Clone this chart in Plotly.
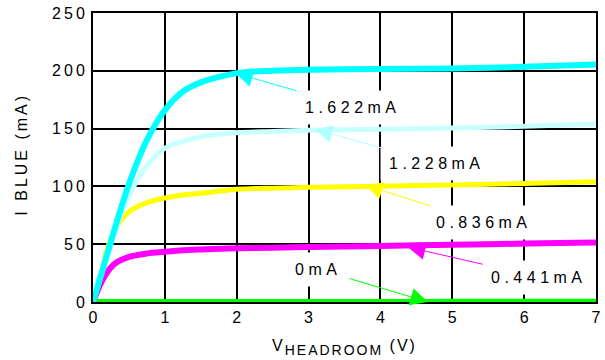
import plotly.graph_objects as go

# ---- data ----
x_pts = [0, 0.1, 0.2, 0.3, 0.5, 0.75, 1.0, 1.25, 1.5, 2.0, 2.5, 3.0, 4.0, 5.0, 6.0, 7.0]
i_1622 = [0, 21, 42, 63, 102, 140, 166, 182, 190, 198, 200, 201, 201.5, 202, 203.5, 205.5]
i_1228 = [0, 20, 40, 60, 92, 118, 133, 139, 143, 146.5, 147.5, 148.5, 149.5, 150.5, 152, 154]
i_0836 = [0, 20, 46, 62, 78, 86, 90, 92.5, 94, 97.5, 98.5, 99.2, 100.2, 101.2, 102.5, 104]
i_0441 = [0, 15, 26, 33, 39, 42, 43.5, 44.8, 45.5, 46.5, 47, 47.5, 48.5, 49.5, 50.5, 51.5]
i_0 = [0, 0, 0, 0, 0, 0, 0, 0, 0, 0, 0, 0, 0, 0.2, 0.3, 0.3]

series = [
    ("0mA", i_0, "#00FF00", 6),
    ("0.441mA", i_0441, "#FF00FF", 6),
    ("0.836mA", i_0836, "#FFFF00", 5),
    ("1.228mA", i_1228, "#C8FFFF", 5),
    ("1.622mA", i_1622, "#00FFFF", 6),
]

# annotation: label, head (x, y), text centre (x, y), colour
labels = [
    ("1.622mA", 1.98, 198, 3.62, 168.5, "#00FFFF"),
    ("1.228mA", 3.09, 149.5, 4.79, 119.5, "#B0FFFF"),
    ("0.836mA", 3.79, 101, 5.44, 68.5, "#FFFF00"),
    ("0.441mA", 4.38, 47.5, 6.21, 21.5, "#FF00FF"),
    ("0mA", 4.66, 0, 3.13, 28.5, "#00FF00"),
]

x_ticks = [0, 1, 2, 3, 4, 5, 6, 7]
y_ticks = [0, 50, 100, 150, 200, 250]
y_title = "I BLUE (mA)"

FONT = "Liberation Sans, Arial, Helvetica, sans-serif"


def spaced(s, px):
    return f'<span style="letter-spacing:{px}px">{s}</span>'


fig = go.Figure()
for name, ys, col, w in series:
    fig.add_trace(go.Scatter(x=x_pts, y=ys, mode="lines", name=name,
                             line=dict(color=col, width=w, shape="spline", smoothing=0.8),
                             hoverinfo="skip"))

for txt, hx, hy, tx, ty, col in labels:
    fig.add_annotation(x=hx, y=hy, ax=tx, ay=ty, axref="x", ayref="y", xref="x", yref="y",
                       text=spaced(txt, 4.5), showarrow=True, arrowhead=2, arrowsize=3.5,
                       arrowwidth=1, arrowcolor=col, bgcolor="white", borderpad=8,
                       font=dict(family=FONT, size=16, color="black"))

# y-axis title placed as rotated text
fig.add_annotation(xref="paper", yref="paper", x=-0.141, y=0.51, showarrow=False,
                   text=spaced(y_title, 3), textangle=-90, xanchor="center", yanchor="middle",
                   font=dict(family=FONT, size=16, color="black"))

fig.update_layout(
    width=605, height=360,
    margin=dict(l=93, r=9, t=13, b=58),
    paper_bgcolor="white", plot_bgcolor="white",
    showlegend=False,
    font=dict(family=FONT, size=16, color="black"),
)
fig.update_xaxes(range=[0, 7], tickvals=x_ticks, ticktext=[str(v) for v in x_ticks],
                 automargin=False,
                 showgrid=True, gridcolor="black", gridwidth=2, zeroline=False,
                 showline=True, linecolor="black", linewidth=2, mirror=True, ticks="",
                 tickfont=dict(family=FONT, size=16),
                 title=dict(text=spaced("V<sub><span style=\"font-size:14px\">HEADROOM</span></sub> (V)", 2),
                            font=dict(family=FONT, size=16)))
fig.update_yaxes(range=[0, 250], tickvals=y_ticks, ticktext=[spaced(str(v), 3) for v in y_ticks],
                 automargin=False,
                 showgrid=True, gridcolor="black", gridwidth=2, zeroline=False,
                 showline=True, linecolor="black", linewidth=2, mirror=True, ticks="",
                 tickfont=dict(family=FONT, size=16))

fig.write_html("out.html", config={"displayModeBar": False},
               post_script="document.body.style.margin='0';")
